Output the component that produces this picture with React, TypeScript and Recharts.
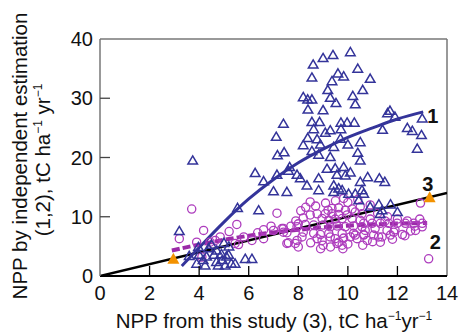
import React from 'react';
import {
  ComposedChart, Scatter, Line, XAxis, YAxis, ReferenceLine, Label,
} from 'recharts';

// axis ticks
const xTicks = [0, 2, 4, 6, 8, 10, 12, 14];
const yTicks = [0, 10, 20, 30, 40];

// (1) independent estimation, triangles
const estTriangles = [
  [10.1, 37.8], [9.4, 37.3], [9.0, 36.8], [8.6, 35.7], [10.4, 35.0], [8.55, 33.5], [9.6, 34.2],
  [9.83, 33.7], [9.36, 32.9], [10.9, 33.3], [9.19, 31.4], [10.6, 31.4], [8.2, 30.2], [8.38, 29.8],
  [8.55, 29.8], [9.29, 30.1], [10.2, 30.4], [9.52, 29.2], [10.3, 29.0], [8.39, 28.1], [9.0, 28.0],
  [11.6, 27.5], [11.7, 27.9], [11.9, 26.9], [13.0, 26.6], [12.4, 25.0], [12.6, 24.5], [12.97, 23.8],
  [12.8, 21.5], [11.4, 24.7], [7.4, 25.7], [7.11, 23.5], [7.43, 20.9], [7.16, 20.4], [10.5, 22.6],
  [10.4, 20.8], [10.5, 19.5], [8.55, 26.0], [8.86, 26.0], [9.72, 25.9], [9.97, 25.9], [10.26, 25.9],
  [8.62, 24.8], [9.09, 24.2], [9.29, 24.6], [9.72, 24.8], [8.38, 23.3], [8.76, 23.1], [9.7, 23.2],
  [10.0, 22.2], [8.2, 22.1], [8.89, 22.2], [9.43, 21.8], [8.55, 21.1], [8.82, 20.5], [9.29, 20.1],
  [7.65, 18.4], [7.95, 17.1], [8.08, 16.5], [7.14, 17.1], [9.16, 18.1], [9.49, 18.2], [9.83, 18.4],
  [9.56, 17.1], [9.9, 17.0], [10.1, 17.5], [10.8, 16.7], [8.82, 16.5], [8.35, 15.3], [9.43, 15.3],
  [9.63, 14.8], [11.27, 16.5], [11.49, 15.9], [10.5, 15.9], [10.57, 14.5], [7.0, 14.3], [7.54, 14.2],
  [8.82, 14.5], [6.26, 17.4], [7.6, 17.8], [6.6, 16.0], [3.74, 19.5], [9.43, 14.2], [9.77, 14.5],
  [10.03, 13.9], [10.3, 13.9], [10.44, 12.8], [10.64, 13.9], [10.9, 11.7], [11.25, 12.1], [11.38, 11.1],
  [11.72, 12.1], [12.0, 10.8], [11.3, 10.5], [5.55, 11.5], [6.4, 11.1], [3.2, 7.6], [3.97, 4.9],
  [4.38, 4.7], [4.71, 4.3], [3.6, 3.4], [4.0, 3.6], [4.3, 3.3], [4.6, 3.6], [4.9, 3.7], [5.1, 3.3],
  [3.9, 2.1], [4.16, 2.7], [4.24, 1.8], [4.77, 1.8], [5.05, 1.8], [4.93, 2.7], [5.3, 2.1], [5.19, 3.6],
  [5.45, 2.1], [5.86, 2.9], [6.13, 2.9], [5.0, 5.6], [5.2, 5.0], [4.5, 5.3], [4.7, 2.4],
];

// (2) independent estimation, circles
const estCircles = [
  [3.7, 11.3], [4.18, 7.7], [3.2, 6.3], [5.21, 7.5], [5.52, 8.7], [4.85, 6.6], [3.9, 5.7], [4.44, 5.7],
  [4.65, 6.0], [6.36, 7.3], [5.59, 5.3], [6.6, 6.3], [6.13, 6.0], [4.11, 3.2], [5.8, 6.6], [5.45, 5.5],
  [7.14, 10.6], [8.48, 12.5], [7.6, 5.6], [7.95, 6.0], [8.15, 6.6], [7.0, 7.7], [7.34, 8.0], [7.4, 7.4],
  [12.93, 12.3], [13.26, 2.9], [9.83, 13.1], [9.36, 11.4], [9.63, 11.5], [9.9, 11.1], [10.17, 11.3],
  [10.5, 11.7], [9.09, 10.5], [9.36, 10.5], [9.63, 10.4], [9.97, 10.3], [8.2, 9.8], [8.48, 10.3],
  [8.76, 10.5], [8.96, 9.7], [9.23, 9.4], [9.49, 9.6], [9.77, 9.7], [10.17, 9.7], [10.5, 9.4],
  [7.4, 8.0], [7.95, 8.3], [8.28, 8.7], [8.62, 8.6], [9.0, 8.6], [9.29, 8.3], [9.56, 8.45], [9.9, 8.3],
  [10.23, 8.45], [10.57, 8.3], [7.54, 7.3], [8.2, 7.4], [8.62, 7.2], [8.89, 7.0], [9.23, 7.2], [9.77, 7.2],
  [10.23, 7.2], [10.64, 7.0], [8.76, 6.3], [8.96, 6.0], [9.29, 6.6], [9.49, 6.3], [9.83, 6.4], [10.1, 6.6],
  [10.37, 6.3], [7.54, 5.5], [7.88, 5.5], [9.0, 5.2], [9.63, 5.7], [9.77, 5.2], [10.57, 10.5],
  [10.64, 8.9], [10.98, 8.9], [11.31, 8.9], [11.65, 8.9], [11.99, 8.9], [12.32, 8.9], [12.66, 8.9],
  [13.0, 8.9], [10.7, 7.7], [11.1, 8.0], [11.58, 7.7], [11.9, 7.8], [12.53, 7.6], [12.73, 7.7],
  [13.0, 8.3], [10.64, 6.9], [11.04, 6.9], [11.38, 6.6], [11.72, 6.9], [11.85, 7.4], [11.31, 5.7],
  [10.78, 6.0], [9.56, 5.5], [10.3, 6.9], [11.24, 6.6], [7.9, 9.3], [8.1, 11.0], [8.3, 11.6], [8.7, 11.8],
  [9.1, 12.3], [9.5, 12.7], [10.0, 12.4], [10.4, 12.9], [10.9, 12.0], [11.2, 10.6], [11.6, 10.0],
  [12.0, 9.6], [12.4, 9.3], [12.2, 7.0], [12.9, 9.6], [12.7, 8.4], [11.5, 9.3], [10.9, 9.6], [10.3, 10.8],
  [9.2, 11.1], [8.0, 8.8], [7.7, 8.4], [6.9, 8.4], [6.6, 7.8], [8.5, 5.6], [9.3, 4.9], [10.0, 5.4],
  [10.6, 5.2], [11.0, 5.8], [11.8, 6.2], [12.3, 6.8], [8.0, 4.9], [8.9, 4.6], [9.8, 4.6],
];

// fitted curves
const fit1 = [
  [3.3, 1.7], [4, 4.8], [5, 9.1], [6, 13.0], [7, 16.3], [8, 19.1], [9, 21.4], [10, 23.4], [11, 25.0],
  [12, 26.5], [13.04, 27.7],
];
const fit2 = [
  [2.9, 4.3], [4, 5.3], [5, 6.1], [6, 6.8], [7, 7.35], [8, 7.8], [9, 8.2], [10, 8.5], [11, 8.7],
  [12, 8.85], [13.2, 8.95],
];
const oneToOne = [[0, 0], [14, 14]];
const studyMarks = [[2.96, 2.9], [13.3, 13.3]];
const curveLabels = [
  { x: 13.43, y: 27.0, t: '1' },
  { x: 13.53, y: 5.82, t: '2' },
  { x: 13.23, y: 15.6, t: '3' },
];

const toPts = (a: number[][]) => a.map(([x, y]) => ({ x, y }));

const FONT = '"Liberation Sans", Arial, sans-serif';
const BLUE = '#34349a';
const MAGENTA = '#ad3cbd';
const PURPLE = '#9b2aa8';
const ORANGE = '#f39200';

const Tri = (p: any) => (
  <polygon
    points={`${p.cx},${p.cy - 4.6} ${p.cx + 4.8},${p.cy + 3.6} ${p.cx - 4.8},${p.cy + 3.6}`}
    fill="none" stroke={BLUE} strokeWidth={1.5}
  />
);
const Circ = (p: any) => (
  <circle cx={p.cx} cy={p.cy} r={4.1} fill="none" stroke={MAGENTA} strokeWidth={1.3} />
);
const OrangeTri = (p: any) => (
  <polygon
    points={`${p.cx},${p.cy - 6} ${p.cx + 6},${p.cy + 5} ${p.cx - 6},${p.cy + 5}`}
    fill={ORANGE}
  />
);
const CurveLabel = (p: any) => (
  <text x={p.cx} y={p.cy} dy="0.36em" textAnchor="middle" fontFamily={FONT}
    fontWeight="bold" fontSize={20} fill="#111">{p.payload.t}</text>
);

const XTick = (p: any) => {
  const v = p.payload.value;
  return (
    <g>
      {v > 0 && v < 14 && <line x1={p.x} x2={p.x} y1={p.y} y2={p.y - 10} stroke="#000" strokeWidth={1.3} />}
      <text x={p.x} y={p.y + 24} textAnchor="middle" fontFamily={FONT} fontSize={20} fill="#111">{v}</text>
    </g>
  );
};
const YTick = (p: any) => {
  const v = p.payload.value;
  return (
    <g>
      {v > 0 && v < 40 && <line x1={p.x} x2={p.x + 10} y1={p.y} y2={p.y} stroke="#444" strokeWidth={1.3} />}
      <text x={p.x - 7} y={p.y} dy="0.36em" textAnchor="end" fontFamily={FONT} fontSize={20} fill="#111">{v}</text>
    </g>
  );
};

const sup = (s: string) => <tspan fontSize={12} dy={-8}>{s}</tspan>;
const back = (s: string) => <tspan dy={8}>{s}</tspan>;

const XTitle = () => (
  <text x={274} y={328} textAnchor="middle" fontFamily={FONT} fontSize={20.5} fill="#111">
    NPP from this study (3), tC ha{sup('−1')}{back('yr')}{sup('−1')}
  </text>
);
const YTitle = () => (
  <g fontFamily={FONT} fontSize={20.5} fill="#111">
    <text x={27} y={156} textAnchor="middle" transform="rotate(-90, 27, 156)">
      NPP by independent estimation
    </text>
    <text x={50} y={160} textAnchor="middle" transform="rotate(-90, 50, 160)">
      (1,2), tC ha{sup('−1')}{back(' yr')}{sup('−1')}
    </text>
  </g>
);

export default function App() {
  return (
    <div style={{ position: 'absolute', left: 0, top: 0, width: 461, height: 333, background: '#fff' }}>
      <ComposedChart width={461} height={333} margin={{ top: 39, right: 14, bottom: 0, left: 40 }}>
        <XAxis
          type="number" dataKey="x" domain={[0, 14]} ticks={xTicks} allowDataOverflow
          height={57} tickSize={0} tickMargin={0} tickLine={false} tick={XTick}
          axisLine={{ stroke: '#000', strokeWidth: 2.2 }} interval={0}
        >
          <Label content={XTitle} />
        </XAxis>
        <YAxis
          type="number" dataKey="y" domain={[0, 40]} ticks={yTicks} allowDataOverflow
          width={60} tickSize={0} tickMargin={0} tickLine={false} tick={YTick}
          axisLine={{ stroke: '#777', strokeWidth: 1.5 }} interval={0}
        >
          <Label content={YTitle} />
        </YAxis>
        <ReferenceLine y={40} stroke="#777" strokeWidth={1.5} />
        <ReferenceLine x={14} stroke="#777" strokeWidth={1.5} />
        <Scatter data={toPts(estCircles)} shape={Circ} isAnimationActive={false} />
        <Scatter data={toPts(estTriangles)} shape={Tri} isAnimationActive={false} />
        <Line data={toPts(oneToOne)} dataKey="y" type="linear" stroke="#000" strokeWidth={2.5}
          dot={false} isAnimationActive={false} />
        <Line data={toPts(fit2)} dataKey="y" type="monotone" stroke={PURPLE} strokeWidth={4}
          strokeDasharray="8 3" dot={false} isAnimationActive={false} />
        <Line data={toPts(fit1)} dataKey="y" type="monotone" stroke={BLUE} strokeWidth={3}
          dot={false} isAnimationActive={false} />
        <Scatter data={toPts(studyMarks)} shape={OrangeTri} isAnimationActive={false} />
        <Scatter data={curveLabels} shape={CurveLabel} isAnimationActive={false} />
      </ComposedChart>
    </div>
  );
}
